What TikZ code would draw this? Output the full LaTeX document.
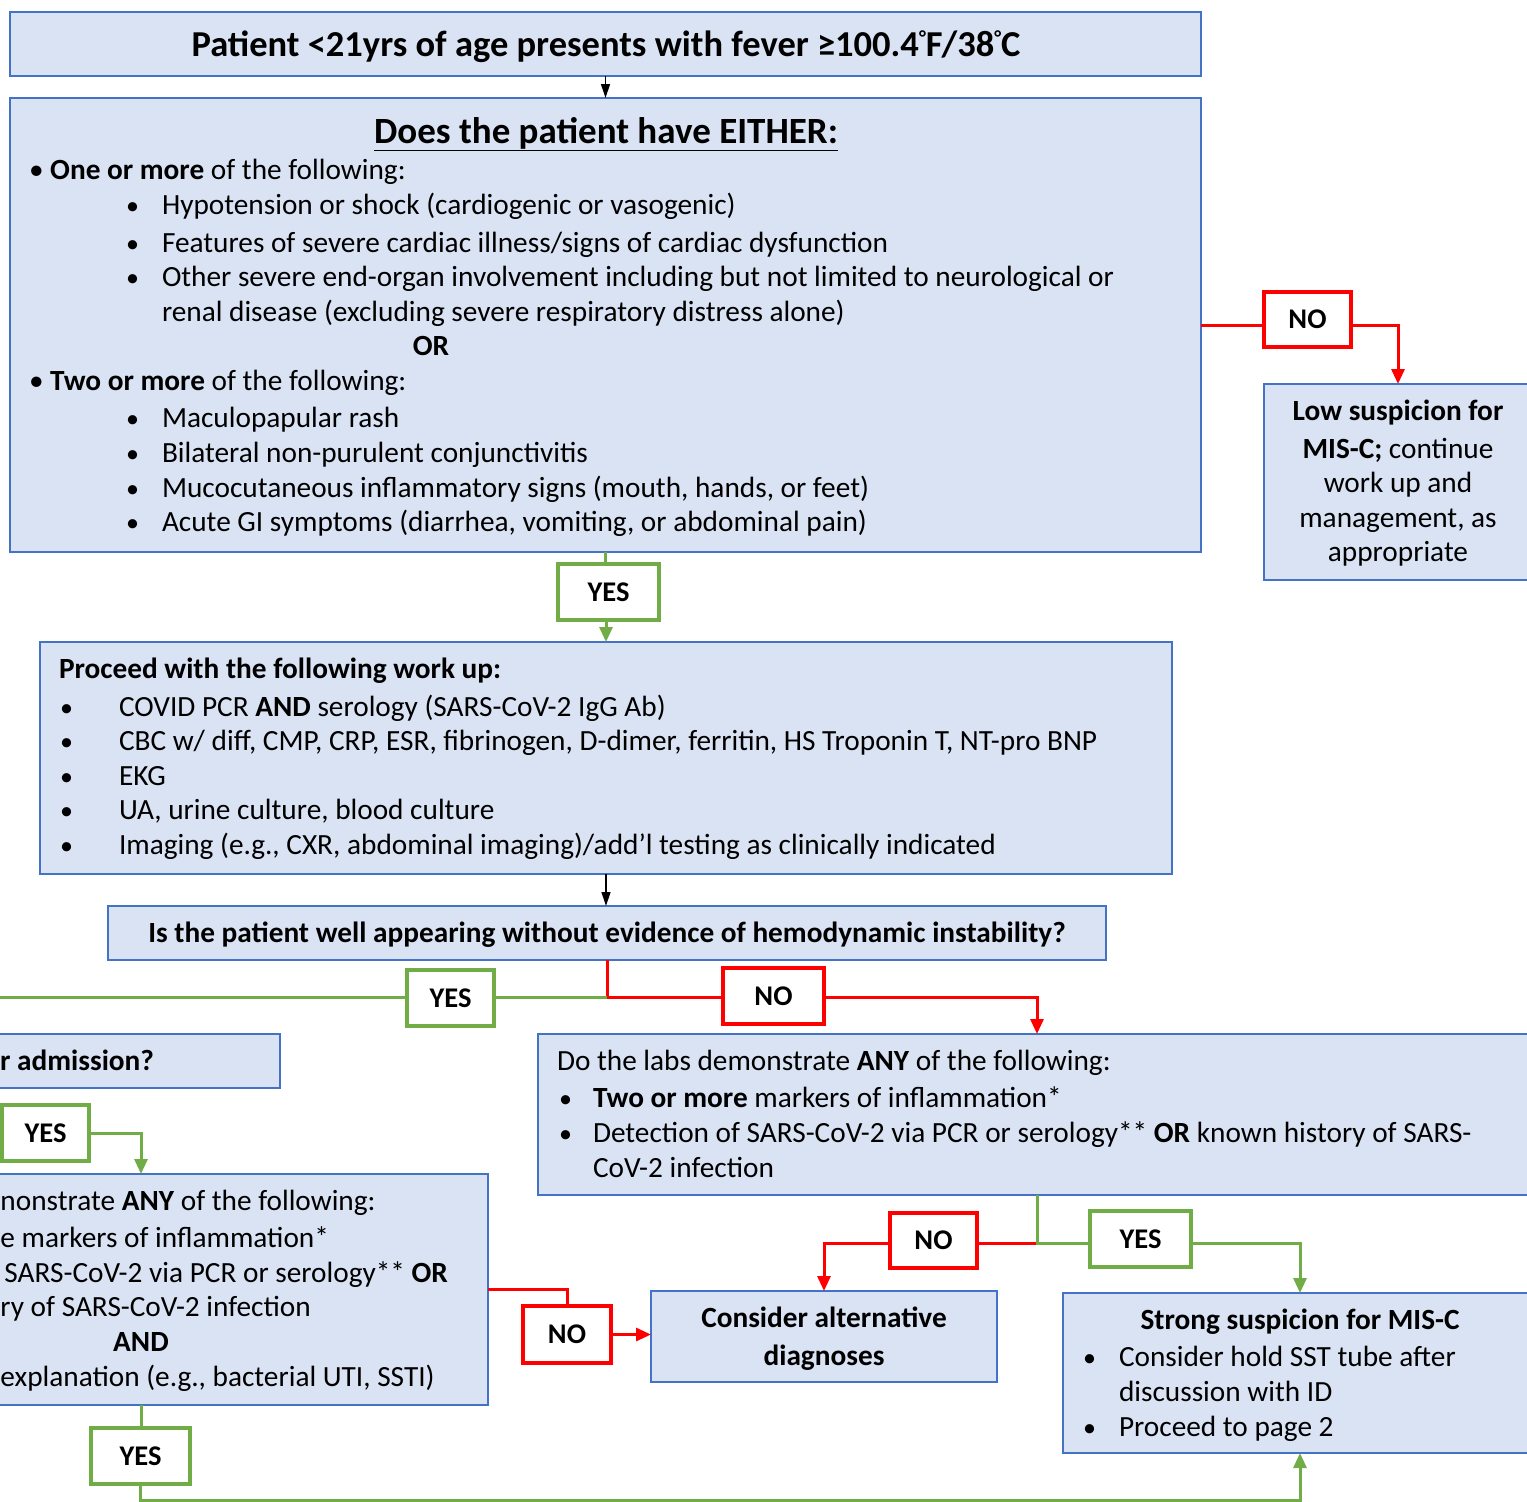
\documentclass[tikz,border=0pt]{standalone}
\usepackage{fontspec}
\setmainfont{Carlito}
\usetikzlibrary{arrows.meta}

\definecolor{boxfill}{HTML}{DAE3F3}
\definecolor{boxline}{HTML}{4472C4}
\definecolor{nored}{HTML}{FF0000}
\definecolor{yesgreen}{HTML}{70AD47}

\newcommand{\fsz}[1]{\fontsize{#1pt}{#1pt}\selectfont}
% small raised degree ring
\newcommand{\degring}{\raisebox{0.32em}{\fsz{20}°}}

\tikzset{
  box/.style={draw=boxline, fill=boxfill, line width=2pt, inner sep=0pt, outer sep=0pt, anchor=north west},
  txt/.style={anchor=base west, inner sep=0pt, outer sep=0pt, font=\fsz{29.3}},
  txtc/.style={txt, anchor=base},
  txte/.style={txt, anchor=base east},
  lbl/.style={fill=white, line width=3.5pt, inner sep=0pt, outer sep=0pt, minimum height=56pt, font=\fsz{28.5}\bfseries},
  nolbl/.style={lbl, draw=nored},
  yeslbl/.style={lbl, draw=yesgreen},
  flow/.style={draw=black, line width=1.3pt, -{Triangle[length=14pt,width=9pt]}},
  nopath/.style={draw=nored, line width=3pt},
  yespath/.style={draw=yesgreen, line width=3pt},
  headtip/.style={-{Triangle[length=15pt,width=13pt]}},
}

\begin{document}
\begin{tikzpicture}[x=1pt,y=-1pt]
\useasboundingbox (0,0) rectangle (1527,1502);
\clip (0,0) rectangle (1527,1502);

% ---------- boxes ----------
\node[box, minimum width=1191pt, minimum height=64pt]  (b1)     at (10,12)    {};
\node[box, minimum width=1191pt, minimum height=454pt] (b2)     at (10,98)    {};
\node[box, minimum width=268pt,  minimum height=196pt] (low)    at (1264,384) {};
\node[box, minimum width=1132pt, minimum height=232pt] (b3)     at (40,642)   {};
\node[box, minimum width=998pt,  minimum height=54pt]  (b4)     at (108,906)  {};
\node[box, minimum width=1000pt, minimum height=161pt] (b5)     at (538,1034) {};
\node[box, minimum width=580pt,  minimum height=54pt]  (adm)    at (-300,1034){};
\node[box, minimum width=694pt,  minimum height=231pt] (b6)     at (-206,1174){};
\node[box, minimum width=346pt,  minimum height=91pt]  (alt)    at (651,1291) {};
\node[box, minimum width=474pt,  minimum height=160pt] (strong) at (1063,1293){};

% ---------- texts ----------
\node[txtc, font=\fsz{36.5}\bfseries] (t1) at (606,56)
  {Patient <21yrs of age presents with fever ≥100.4\degring F/38\degring C};
\node[txtc, font=\fsz{37}\bfseries] (t2) at (606,143)
  {\underline{Does the patient have EITHER:}};
\node[txt] (t2a) at (29,179) {• \textbf{One or more} of the following:};
\foreach \n/\y/\s in {1/214/{Hypotension or shock (cardiogenic or vasogenic)},
                      2/252/{Features of severe cardiac illness/signs of cardiac dysfunction},
                      3/286/{Other severe end-organ involvement including but not limited to neurological or},
                      4/427/{Maculopapular rash},
                      5/462/{Bilateral non-purulent conjunctivitis},
                      6/497/{Mucocutaneous inflammatory signs (mouth, hands, or feet)},
                      7/531/{Acute GI symptoms (diarrhea, vomiting, or abdominal pain)}}{
  \node[txt, font=\fsz{26}] (sb\n) at (126,\y) {•};
  \node[txt] (st\n) at (162,\y) {\s};
}
\node[txt] (t2b) at (162,321) {renal disease (excluding severe respiratory distress alone)};
\node[txtc, font=\fsz{29.3}\bfseries] (t2or) at (431,355) {OR};
\node[txt] (t2c) at (29,390) {• \textbf{Two or more} of the following:};

\node[txtc] (lo1) at (1398,420) {\textbf{Low suspicion for}};
\node[txtc] (lo2) at (1398,458) {\textbf{MIS-C;} continue};
\node[txtc] (lo3) at (1398,492) {work up and};
\node[txtc] (lo4) at (1398,527) {management, as};
\node[txtc] (lo5) at (1398,561) {appropriate};

\node[txt] (w0) at (59,678) {\textbf{Proceed with the following work up:}};
\foreach \n/\y/\s in {1/716/{COVID PCR \textbf{AND} serology (SARS-CoV-2 IgG Ab)},
                      2/750/{CBC w/ diff, CMP, CRP, ESR, fibrinogen, D-dimer, ferritin, HS Troponin T, NT-pro BNP},
                      3/785/{EKG},
                      4/819/{UA, urine culture, blood culture},
                      5/854/{Imaging (e.g., CXR, abdominal imaging)/add’l testing as clinically indicated}}{
  \node[txt, font=\fsz{26}] (wb\n) at (60,\y) {•};
  \node[txt] (wt\n) at (119,\y) {\s};
}

\node[txtc, font=\fsz{29.3}\bfseries] (q1) at (607,942)
  {Is the patient well appearing without evidence of hemodynamic instability?};

\node[txt] (r0) at (557,1070) {Do the labs demonstrate \textbf{ANY} of the following:};
\node[txt, font=\fsz{26}] (rb1) at (559,1107) {•};
\node[txt] (rt1) at (593,1107) {\textbf{Two or more} markers of inflammation*};
\node[txt, font=\fsz{26}] (rb2) at (559,1142) {•};
\node[txt] (rt2) at (593,1142) {Detection of SARS-CoV-2 via PCR or serology** \textbf{OR} known history of SARS-};
\node[txt] (rt3) at (593,1177) {CoV-2 infection};

\node[txte, font=\fsz{29.3}\bfseries] (a0) at (154,1070) {r admission?};

\node[txt]  (lf1) at (0.5,1210) {nonstrate \textbf{ANY} of the following:};
\node[txt]  (lf2) at (0.5,1247) {e markers of inflammation*};
\node[txte] (lf3) at (448,1282) {SARS-CoV-2 via PCR or serology** \textbf{OR}};
\node[txt]  (lf4) at (0.5,1316) {ry of SARS-CoV-2 infection};
\node[txtc, font=\fsz{29.3}\bfseries] (lf5) at (141,1351) {AND};
\node[txt]  (lf6) at (0.5,1386) {explanation (e.g., bacterial UTI, SSTI)};

\node[txtc, font=\fsz{29.3}\bfseries] (al1) at (824,1327) {Consider alternative};
\node[txtc, font=\fsz{29.3}\bfseries] (al2) at (824,1365) {diagnoses};

\node[txtc, font=\fsz{29.3}\bfseries] (s0) at (1300,1329) {Strong suspicion for MIS-C};
\node[txt, font=\fsz{26}] (sb1) at (1083,1366) {•};
\node[txt] (sl1) at (1119,1366) {Consider hold SST tube after};
\node[txt] (sl2) at (1119,1401) {discussion with ID};
\node[txt, font=\fsz{26}] (sb2) at (1083,1436) {•};
\node[txt] (sl3) at (1119,1436) {Proceed to page 2};

% ---------- YES / NO labels ----------
\node[nolbl,  minimum width=87pt, minimum height=55pt] (n1) at (1307.5,319.5) {NO};
\node[yeslbl, minimum width=101pt] (y2) at (608.5,592)  {YES};
\node[yeslbl, minimum width=87pt]  (y3) at (450.5,998)  {YES};
\node[nolbl,  minimum width=101pt] (n3) at (773.5,996)  {NO};
\node[nolbl,  minimum width=87pt, minimum height=55pt] (n4) at (933.5,1240.5) {NO};
\node[yeslbl, minimum width=101pt] (y4) at (1140.5,1239) {YES};
\node[yeslbl, minimum width=87pt]  (y5) at (45.5,1133)  {YES};
\node[nolbl,  minimum width=88pt, minimum height=57pt] (n5) at (567,1334.5) {NO};
\node[yeslbl, minimum width=99pt]  (y6) at (140.5,1456) {YES};

% ---------- junctions ----------
\coordinate (j1)    at (607,997);
\coordinate (b5in)  at (1037,1034);
\coordinate (j2)    at (1037,1195);
\coordinate (j3)    at (1037,1243);
\coordinate (offL1) at (-10,997);
\coordinate (offL2) at (-10,1133);
\coordinate (bot)   at (141,1500);

% ---------- connectors ----------
\draw[flow] (b1.south) -- (b2.north);
\draw[nopath] (b2.east) -- (b2.east -| n1.west);
\draw[nopath, headtip] (n1.east |- b2.east) -| (low.north);

\draw[yespath] (b2.south) -- (b2.south |- y2.north);
\draw[yespath, headtip] (b3.north |- y2.south) -- (b3.north);

\draw[flow] (b3.south) -- (b3.south |- b4.north);

\draw[nopath] (b4.south) -- (j1) -- (j1 -| n3.west);
\draw[nopath, headtip] (n3.east |- j1) -| (b5in);
\draw[yespath] (j1) -- (j1 -| y3.east);
\draw[yespath] (y3.west |- j1) -- (offL1);

\draw[nopath] (j3) -- (j3 -| n4.east);
\draw[nopath, headtip] (n4.west |- j3) -| (alt.north);
\draw[yespath] (j2) -- (j3) -- (j3 -| y4.west);
\draw[yespath, headtip] (y4.east |- j3) -| (strong.north);

\draw[yespath] (offL2) -- (y5.west);
\draw[yespath, headtip] (y5.east) -| (b6.north);
\draw[nopath] (b6.east) -| (n5.north);
\draw[nopath, headtip] (n5.east) -- (n5.east -| alt.west);
\draw[yespath] (b6.south) -- (b6.south |- y6.north);
\draw[yespath, headtip] (y6.south) -- (y6.south |- bot) -| (strong.south);
\end{tikzpicture}
\end{document}
